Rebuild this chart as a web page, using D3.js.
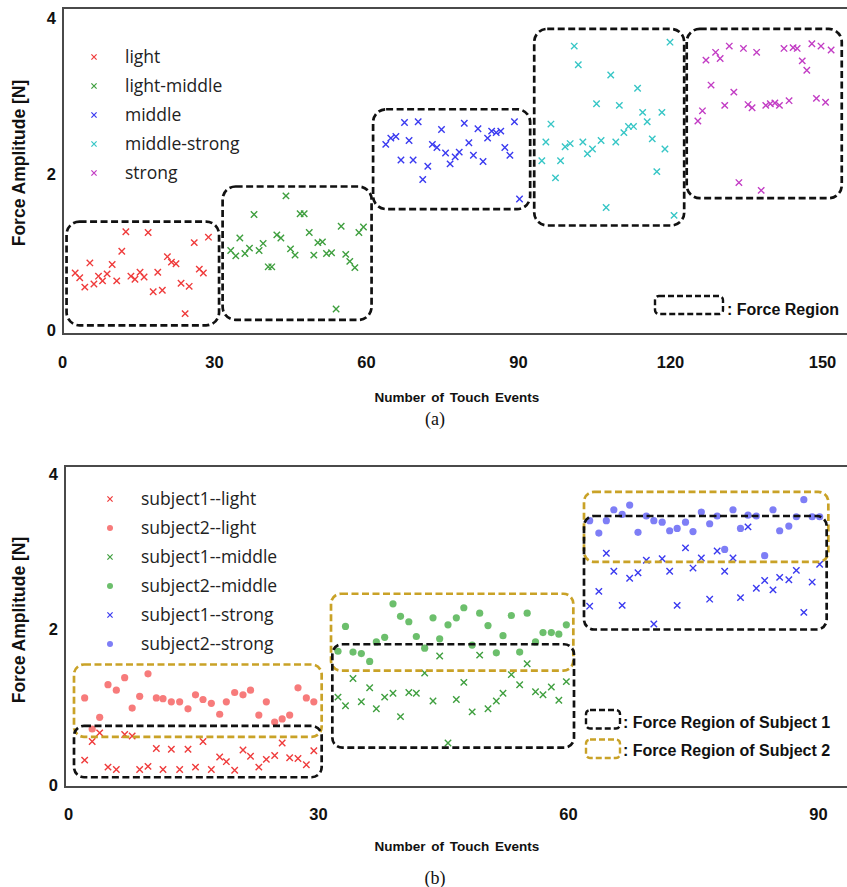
<!DOCTYPE html>
<html><head><meta charset="utf-8">
<script src="https://cdn.jsdelivr.net/npm/d3@7"></script>
<style>body{margin:0;background:#fff;overflow:hidden}</style>
</head><body>
<svg id="c" width="847" height="887"></svg>
<script>
// ---------- Chart (a) data ----------
const seriesA = ["light","light-middle","middle","middle-strong","strong"];
const lightX = [2.6,3.5,4.5,5.5,6.3,7.2,8.0,8.9,9.9,10.8,11.8,12.6,13.6,14.4,15.4,16.2,17.0,18.0,18.9,19.8,20.8,21.6,22.5,23.5,24.3,25.1,26.1,27.1,27.9,28.9];
const lightY = [0.73,0.67,0.55,0.86,0.59,0.69,0.63,0.72,0.84,0.63,1.01,1.26,0.69,0.65,0.74,0.68,1.25,0.49,0.74,0.51,0.94,0.87,0.85,0.60,0.21,0.56,1.12,0.78,0.73,1.19];
const lightMidX = [33.3,34.3,35.1,36.1,37.0,37.9,38.9,39.7,40.7,41.4,42.4,43.2,44.2,45.1,46.0,47.0,47.8,48.8,49.7,50.5,51.4,52.2,53.2,54.1,55.1,56.0,56.8,57.8,58.6,59.5];
const lightMidY = [1.02,0.95,1.18,0.98,1.05,1.48,1.02,1.11,0.81,0.81,1.22,1.18,1.72,1.04,0.96,1.49,1.49,1.25,0.96,1.12,1.13,0.98,0.99,0.27,1.33,0.97,0.88,0.80,1.25,1.32];
const middleX = [63.9,64.9,65.9,66.9,67.6,68.5,69.3,70.3,71.2,72.2,73.1,74.0,74.9,75.7,76.6,77.6,78.4,79.4,80.3,81.2,82.1,83.1,84.0,84.8,85.7,86.6,87.4,88.4,89.3,90.3];
const middleY = [2.38,2.46,2.48,2.18,2.66,2.43,2.18,2.67,1.93,2.10,2.38,2.34,2.57,2.27,2.13,2.22,2.28,2.65,2.40,2.24,2.58,2.16,2.46,2.55,2.53,2.55,2.34,2.24,2.67,1.68];
const midStrongX = [94.7,95.5,96.5,97.4,98.4,99.3,100.3,101.1,101.9,102.8,103.7,104.7,105.5,106.4,107.4,108.3,109.3,110.0,110.9,111.8,112.8,113.6,114.6,115.5,116.5,117.4,118.4,119.0,120.0,120.8];
const midStrongY = [2.17,2.41,2.64,1.95,2.17,2.35,2.39,3.64,3.40,2.41,2.26,2.32,2.90,2.43,1.57,3.27,2.41,2.88,2.53,2.61,2.61,3.10,2.79,2.67,2.45,2.03,2.79,2.32,3.69,1.47];
const strongX = [125.5,126.4,127.1,128.1,129.0,129.9,130.8,131.7,132.6,133.6,134.5,135.4,136.2,137.1,138.0,138.9,139.8,140.7,141.6,142.5,143.5,144.3,145.1,146.1,147.0,148.0,148.9,149.8,150.7,151.8];
const strongY = [2.68,2.81,3.46,3.14,3.56,3.48,2.88,3.64,3.05,1.89,3.61,2.89,2.85,3.56,1.79,2.88,2.90,2.91,2.88,3.61,2.94,3.62,3.61,3.45,3.33,3.67,2.97,3.64,2.92,3.59];
// force regions: [x0, x1, y0, y1]
const regionsA = [[0.9,31.0,0.06,1.39],[31.7,61.1,0.13,1.84],[61.4,92.4,1.55,2.83],[93.2,122.8,1.34,3.86],[123.3,153.9,1.69,3.86]];
const xTicksA = [0,30,60,90,120,150];
const yTicks = [0,2,4];

// ---------- Chart (b) data ----------
const seriesB = ["subject1--light","subject2--light","subject1--middle","subject2--middle","subject1--strong","subject2--strong"];
const bLightX = [2.0,2.9,3.8,4.8,5.8,6.8,7.7,8.6,9.6,10.6,11.4,12.4,13.4,14.4,15.3,16.2,17.2,18.2,19.0,20.0,21.0,21.9,22.9,23.8,24.8,25.7,26.6,27.6,28.6,29.5];
const s1LightY = [0.32,0.56,0.67,0.23,0.20,0.65,0.63,0.20,0.24,0.47,0.20,0.46,0.20,0.46,0.23,0.56,0.20,0.36,0.30,0.19,0.45,0.37,0.23,0.33,0.38,0.54,0.35,0.34,0.26,0.44];
const s2LightY = [1.12,0.72,0.87,1.29,1.22,1.38,0.99,1.14,1.43,1.12,1.11,1.07,1.07,0.98,1.16,1.10,1.05,0.91,1.07,1.19,1.16,1.22,0.90,1.07,0.81,0.85,0.90,1.25,1.12,1.07];
const bMidX = [32.4,33.3,34.2,35.2,36.2,37.0,38.0,39.0,39.9,40.9,41.8,42.8,43.8,44.6,45.6,46.6,47.5,48.5,49.4,50.4,51.4,52.2,53.2,54.2,55.1,56.1,57.0,58.0,58.9,59.8];
const s1MidY = [1.13,1.02,1.37,1.07,1.25,0.98,1.13,1.18,0.88,1.19,1.18,1.44,1.08,1.66,0.54,1.10,1.32,0.94,1.67,0.98,1.08,1.18,1.42,1.29,1.56,1.20,1.16,1.26,1.09,1.33];
const s2MidY = [1.72,2.04,1.71,1.69,1.59,1.84,1.90,2.33,2.17,2.10,1.91,1.76,2.15,1.88,2.06,2.15,2.28,1.80,2.21,2.05,1.70,1.92,2.18,1.71,2.21,1.84,1.96,1.96,1.94,2.06];
const bStrX = [62.6,63.7,64.6,65.5,66.5,67.4,68.4,69.4,70.3,71.3,72.2,73.1,74.1,75.0,76.0,77.0,77.9,78.8,79.8,80.7,81.6,82.6,83.6,84.6,85.4,86.5,87.4,88.3,89.3,90.2];
const s1StrY = [2.30,2.49,2.98,2.75,2.31,2.66,2.73,2.89,2.07,2.91,2.75,2.31,3.05,2.79,2.92,2.39,3.01,2.75,2.92,2.41,3.32,2.53,2.63,2.51,2.67,2.64,2.76,2.22,2.61,2.84];
const s2StrY = [3.40,3.24,3.40,3.54,3.48,3.60,3.25,3.46,3.40,3.38,3.27,3.30,3.38,3.26,3.51,3.36,3.46,3.03,3.54,3.30,3.47,3.46,2.95,3.54,3.27,3.33,3.45,3.67,3.45,3.45];
const regionsS1 = [[0.72,30.44,0.10,0.76],[31.72,60.72,0.48,1.81],[61.92,91.04,2.00,3.46]];
const regionsS2 = [[0.72,30.44,0.62,1.55],[31.56,60.64,1.47,2.46],[61.92,91.24,2.87,3.77]];
const xTicksB = [0,30,60,90];

// ---------- drawing ----------
const svg = d3.select("#c");
svg.append("rect").attr("width",847).attr("height",887).attr("fill","#fff");
const C = {red:"#ef3b3b", redDot:"#f77b7b", green:"#3f9f3f", greenDot:"#6cbf6c",
           blue:"#3a3af0", blueDot:"#7e7ef6", cyan:"#37c6c6", mag:"#c23cc4",
           black:"#111", gold:"#c9a227", frame:"#4a4a4a"};
const tickFont = "bold 16.5px 'Liberation Sans', Arial, sans-serif";

function xPath(x,y,s){return `M${x-s},${y-s}L${x+s},${y+s}M${x-s},${y+s}L${x+s},${y-s}`;}

function panel(o){
  const g = svg.append("g");
  const xs = d3.scaleLinear().domain(o.xDom).range(o.xRange);
  const ys = d3.scaleLinear().domain([0,4]).range(o.yRange);
  g.append("rect").attr("x",o.frame[0]).attr("y",o.frame[1])
    .attr("width",o.frame[2]-o.frame[0]).attr("height",o.frame[3]-o.frame[1])
    .attr("fill","none").attr("stroke",C.frame).attr("stroke-width",2);
  const ax = g.append("g").attr("transform",`translate(0,${o.frame[3]})`)
    .call(d3.axisBottom(xs).tickValues(o.xTicks).tickFormat(d3.format("d")).tickSize(0).tickPadding(o.xPad));
  const ay = g.append("g").attr("transform",`translate(${o.frame[0]},0)`)
    .call(d3.axisLeft(ys).tickValues(yTicks).tickFormat(d3.format("d")).tickSize(0).tickPadding(7));
  [ax,ay].forEach(a=>{a.select(".domain").remove();
    a.selectAll("text").style("font",tickFont).attr("fill","#111");});
  g.append("text").attr("x",457).attr("y",o.xTitleY).attr("text-anchor","middle")
    .style("font","bold 13.5px 'Liberation Sans', Arial, sans-serif").attr("fill","#111")
    .attr("word-spacing","2px").text("Number of Touch Events");
  g.append("text").attr("transform",`translate(25,${o.yTitleC}) rotate(-90)`).attr("text-anchor","middle")
    .style("font","bold 17.5px 'Liberation Sans', Arial, sans-serif").attr("fill","#111")
    .text("Force Amplitude [N]");
  g.append("text").attr("x",435).attr("y",o.capY).attr("text-anchor","middle")
    .style("font","18px 'Liberation Serif', 'Times New Roman', serif").attr("fill","#111")
    .text(o.cap);
  return {g,xs,ys};
}

function crosses(g,xs,ys,X,Y,color){
  g.append("g").selectAll("path").data(X.map((x,i)=>[x,Y[i]])).join("path")
    .attr("d",d=>xPath(xs(d[0]),ys(d[1]),3.2)).attr("stroke",color)
    .attr("stroke-width",1.4).attr("fill","none");
}
function dots(g,xs,ys,X,Y,color){
  g.append("g").selectAll("circle").data(X.map((x,i)=>[x,Y[i]])).join("circle")
    .attr("cx",d=>xs(d[0])).attr("cy",d=>ys(d[1])).attr("r",3.6).attr("fill",color);
}
function boxes(g,xs,ys,R,color,rx){
  g.append("g").selectAll("rect").data(R).join("rect")
    .attr("x",d=>xs(d[0])).attr("y",d=>ys(d[3]))
    .attr("width",d=>xs(d[1])-xs(d[0])).attr("height",d=>ys(d[2])-ys(d[3]))
    .attr("rx",rx).attr("fill","none").attr("stroke",color)
    .attr("stroke-width",2.7).attr("stroke-dasharray","7,3.5");
}

// ----- panel (a) -----
const A = panel({xDom:[0,150], xRange:[62,822], yRange:[330,18], frame:[63,8,860,334],
  xTicks:xTicksA, xPad:22, xTitleY:402, yTitleC:163, capY:425, cap:"(a)"});
const colA = [C.red,C.green,C.blue,C.cyan,C.mag];
[[lightX,lightY],[lightMidX,lightMidY],[middleX,middleY],[midStrongX,midStrongY],[strongX,strongY]]
  .forEach((s,i)=>crosses(A.g,A.xs,A.ys,s[0],s[1],colA[i]));
boxes(A.g,A.xs,A.ys,regionsA,C.black,13);
const legA = A.g.append("g");
seriesA.forEach((name,i)=>{
  const y = 57 + i*29;
  legA.append("path").attr("d",xPath(94,y,2.6)).attr("stroke",colA[i]).attr("stroke-width",1.2).attr("fill","none");
  legA.append("text").attr("x",125).attr("y",y).attr("dy","0.35em")
    .style("font","17.5px 'Open Sans', sans-serif").attr("fill","#222").text(name);
});
legA.append("rect").attr("x",655).attr("y",296).attr("width",68).attr("height",18).attr("rx",4)
  .attr("fill","none").attr("stroke",C.black).attr("stroke-width",2.4).attr("stroke-dasharray","6,3");
legA.append("text").attr("x",727).attr("y",315)
  .style("font","bold 16px 'Liberation Sans', Arial, sans-serif").attr("fill","#111").text(": Force Region");

// ----- panel (b) -----
const B = panel({xDom:[0,90], xRange:[68,818], yRange:[785,474], frame:[65,466,860,787],
  xTicks:xTicksB, xPad:21, xTitleY:851, yTitleC:620, capY:884, cap:"(b)"});
crosses(B.g,B.xs,B.ys,bLightX,s1LightY,C.red);
dots(B.g,B.xs,B.ys,bLightX,s2LightY,C.redDot);
crosses(B.g,B.xs,B.ys,bMidX,s1MidY,C.green);
dots(B.g,B.xs,B.ys,bMidX,s2MidY,C.greenDot);
crosses(B.g,B.xs,B.ys,bStrX,s1StrY,C.blue);
dots(B.g,B.xs,B.ys,bStrX,s2StrY,C.blueDot);
boxes(B.g,B.xs,B.ys,regionsS2,C.gold,10);
boxes(B.g,B.xs,B.ys,regionsS1,C.black,10);
const legB = B.g.append("g");
const colB = [C.red,C.redDot,C.green,C.greenDot,C.blue,C.blueDot];
seriesB.forEach((name,i)=>{
  const y = 499 + i*29;
  if(i%2===0) legB.append("path").attr("d",xPath(110,y,2.6)).attr("stroke",colB[i]).attr("stroke-width",1.2).attr("fill","none");
  else legB.append("circle").attr("cx",110).attr("cy",y).attr("r",3).attr("fill",colB[i]);
  legB.append("text").attr("x",141).attr("y",y).attr("dy","0.35em")
    .style("font","17.5px 'Open Sans', sans-serif").attr("fill","#222").text(name);
});
[[C.black,710,": Force Region of Subject 1",727.5],[C.gold,739.5,": Force Region of Subject 2",756]].forEach(r=>{
  legB.append("rect").attr("x",586).attr("y",r[1]).attr("width",34).attr("height",18.5).attr("rx",4)
    .attr("fill","none").attr("stroke",r[0]).attr("stroke-width",2.4).attr("stroke-dasharray","6,3");
  legB.append("text").attr("x",623).attr("y",r[3])
    .style("font","bold 16px 'Liberation Sans', Arial, sans-serif").attr("fill","#111").text(r[2]);
});
</script>
</body></html>
